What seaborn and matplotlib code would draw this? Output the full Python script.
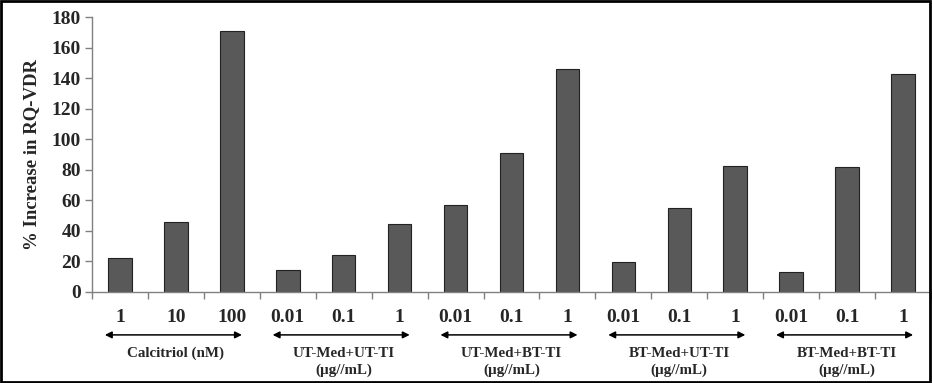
import numpy as np
import pandas as pd
import matplotlib
matplotlib.use("Agg")
import matplotlib.pyplot as plt
import seaborn as sns
from matplotlib.patches import Rectangle

# Data
groups = ["Calcitriol (nM)", "UT-Med+UT-TI\n(\u00b5g//mL)", "UT-Med+BT-TI\n(\u00b5g//mL)",
          "BT-Med+UT-TI\n(\u00b5g//mL)", "BT-Med+BT-TI\n(\u00b5g//mL)"]
doses = [["1", "10", "100"],
         ["0.01", "0.1", "1"],
         ["0.01", "0.1", "1"],
         ["0.01", "0.1", "1"],
         ["0.01", "0.1", "1"]]
values = [[22, 46, 171],
          [14.5, 24, 44.5],
          [57, 91, 146],
          [19.5, 55, 82.5],
          [13, 81.5, 143]]

rows = []
for g, ds, vs in zip(groups, doses, values):
    for d, v in zip(ds, vs):
        rows.append({"group": g, "dose": d, "value": v, "key": f"{g}|{d}"})
df = pd.DataFrame(rows)

sns.set_style("white")
plt.rcParams["font.family"] = ["Liberation Serif", "DejaVu Serif"]
plt.rcParams["font.weight"] = "bold"

fig = plt.figure(figsize=(9.32, 3.83), dpi=100)
ax = fig.add_axes([92 / 932, 91 / 383, 839 / 932, 275 / 383])

sns.barplot(data=df, x="key", y="value", order=list(df["key"]), color="#595959",
            width=0.42, edgecolor="#222222", linewidth=0.8, saturation=1, ax=ax)

n = len(df)
ax.set_xlim(-0.5, n - 0.5)
ax.set_ylim(0, 180)
ax.set_yticks(range(0, 181, 20))
ax.tick_params(axis="y", labelsize=14, length=5, width=1, color="#808080", direction="out", left=True, pad=3)
for lab in ax.get_yticklabels():
    lab.set_fontweight("bold")

# category labels under bars, ticks at boundaries
ax.set_xticks(range(n))
ax.set_xticklabels([])
ax.tick_params(axis="x", length=0)
ax.set_xticks(np.arange(-0.5, n, 1), minor=True)
ax.tick_params(axis="x", which="minor", length=5, width=1, color="#808080", direction="out", bottom=True)
ax.set_xlabel("")
ax.set_ylabel("% Increase in RQ-VDR", fontsize=13.5, fontweight="bold", labelpad=8)

for s in ["top", "right"]:
    ax.spines[s].set_visible(False)
for s in ["left", "bottom"]:
    ax.spines[s].set_color("#808080")
    ax.spines[s].set_linewidth(1)

tr = ax.get_xaxis_transform()
for i, d in enumerate(df["dose"]):
    ax.text(i, -0.094, d, transform=tr, ha="center", va="center", fontsize=14,
            fontweight="bold", clip_on=False)

for gi, g in enumerate(groups):
    x0 = gi * 3 - 0.27
    x1 = gi * 3 + 2.18
    ax.annotate("", xy=(x1, -0.156), xytext=(x0, -0.156), xycoords=tr, textcoords=tr,
                arrowprops=dict(arrowstyle="<|-|>", color="black", lw=1.1,
                                mutation_scale=10, shrinkA=0, shrinkB=0),
                annotation_clip=False)
    ax.text(gi * 3 + 1, -0.2, g, transform=tr, ha="center", va="top", fontsize=10.8,
            fontweight="bold", linespacing=1.3, clip_on=False)

fig.add_artist(Rectangle((0.001, 0.002), 0.997, 0.995, transform=fig.transFigure,
                         fill=False, edgecolor="black", linewidth=2))

fig.savefig("out.png", dpi=100)
